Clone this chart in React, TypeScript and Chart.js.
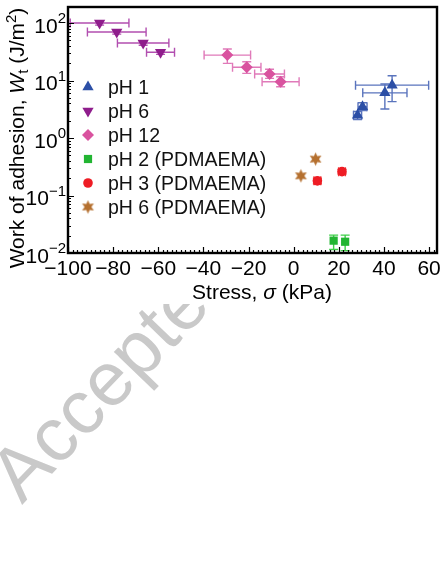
import React, { useEffect, useRef } from 'react';
import { Chart, registerables } from 'chart.js';
import { drawPoint } from 'chart.js/helpers';

Chart.register(...registerables);

// Axis ranges and tick values
const X_MIN = -100;
const X_MAX = 63.5;
const Y_MIN = 0.01;
const Y_MAX = 190;
const xTickValues = [-100, -80, -60, -40, -20, 0, 20, 40, 60];
const yTickExponents = [-2, -1, 0, 1, 2];

// pH 1
const ph1X = [43.6, 40.4, 30.5, 28.3];
const ph1Y = [8.3, 6.1, 3.5, 2.5];
const ph1XErr = [16.2, 9.8, 2.0, 1.8];
const ph1YLow = [4.3, 3.2, 3.0, 2.1];
const ph1YHigh = [12.1, 8.7, 4.1, 2.9];

// pH 6
const ph6X = [-86, -78.4, -66.7, -59];
const ph6Y = [100, 70, 45, 31];
const ph6XErr = [13, 13, 11.4, 6.2];
const ph6YLow = [92, 64, 41, 28.5];
const ph6YHigh = [108, 76, 49, 33.5];

// pH 12
const ph12X = [-29.4, -20.8, -10.7, -5.8];
const ph12Y = [27.7, 17, 13, 9.5];
const ph12XErr = [10.3, 6.3, 6.6, 8.2];
const ph12YLow = [19.9, 13.3, 10.9, 7.8];
const ph12YHigh = [35.3, 21.2, 15.7, 11.6];

// pH 2 (PDMAEMA)
const pdma2X = [17.7, 22.8];
const pdma2Y = [0.0164, 0.0157];
const pdma2XErr = [0, 0];
const pdma2YLow = [0.0115, 0.011];
const pdma2YHigh = [0.0205, 0.0205];

// pH 3 (PDMAEMA)
const pdma3X = [10.5, 21.4];
const pdma3Y = [0.18, 0.26];
const pdma3XErr = [1.5, 1.5];
const pdma3YLow = [0.16, 0.235];
const pdma3YHigh = [0.2, 0.285];

// pH 6 (PDMAEMA)
const pdma6X = [9.7, 3.2];
const pdma6Y = [0.43, 0.22];

const seriesLabels = ['pH 1', 'pH 6', 'pH 12', 'pH 2 (PDMAEMA)', 'pH 3 (PDMAEMA)', 'pH 6 (PDMAEMA)'];

const FONT = '"Liberation Sans", Arial, Helvetica, sans-serif';

type Pt = { x: number; y: number; xErr: number; yLow: number; yHigh: number };

function points(xs: number[], ys: number[], xErr?: number[], yLow?: number[], yHigh?: number[]): Pt[] {
  return xs.map((x, i) => ({
    x,
    y: ys[i],
    xErr: xErr ? xErr[i] : 0,
    yLow: yLow ? yLow[i] : ys[i],
    yHigh: yHigh ? yHigh[i] : ys[i],
  }));
}

function makeStar(color: string): HTMLCanvasElement {
  const c = document.createElement('canvas');
  c.width = 15;
  c.height = 15;
  const g = c.getContext('2d')!;
  const cx = 7.5, cy = 7.5, outer = 6.8, inner = 3.4;
  g.beginPath();
  for (let i = 0; i < 12; i++) {
    const r = i % 2 === 0 ? outer : inner;
    const a = -Math.PI / 2 + (i * Math.PI) / 6;
    const px = cx + r * Math.cos(a);
    const py = cy + r * Math.sin(a);
    if (i === 0) g.moveTo(px, py);
    else g.lineTo(px, py);
  }
  g.closePath();
  g.fillStyle = color;
  g.fill();
  return c;
}

type Seg = { t: string; font: string; dy: number };

function drawSegs(ctx: CanvasRenderingContext2D, segs: Seg[], x: number, y: number, align: 'left' | 'center' | 'right') {
  ctx.textAlign = 'left';
  ctx.textBaseline = 'alphabetic';
  const widths = segs.map((s) => {
    ctx.font = s.font;
    return ctx.measureText(s.t).width;
  });
  const total = widths.reduce((a, b) => a + b, 0);
  let cx = align === 'center' ? x - total / 2 : align === 'right' ? x - total : x;
  segs.forEach((s, i) => {
    ctx.font = s.font;
    ctx.fillText(s.t, cx, y + s.dy);
    cx += widths[i];
  });
}

const watermarkPlugin = {
  id: 'watermark',
  beforeDraw(chart: any) {
    const ctx: CanvasRenderingContext2D = chart.ctx;
    ctx.save();
    ctx.beginPath();
    ctx.rect(0, 304, chart.width, chart.height - 304);
    ctx.clip();
    ctx.translate(22, 505);
    ctx.rotate((-46 * Math.PI) / 180);
    ctx.fillStyle = '#c9c9c9';
    ctx.font = `76px ${FONT}`;
    ctx.textAlign = 'left';
    ctx.textBaseline = 'alphabetic';
    ctx.fillText('Accepted', 0, 0);
    ctx.restore();
  },
};

const errorBarPlugin = {
  id: 'errorBars',
  beforeDatasetsDraw(chart: any) {
    const ctx: CanvasRenderingContext2D = chart.ctx;
    const xs = chart.scales.x;
    const ys = chart.scales.y;
    const area = chart.chartArea;
    const cap = 4.5;
    ctx.save();
    ctx.beginPath();
    ctx.rect(area.left, area.top, area.right - area.left, area.bottom - area.top);
    ctx.clip();
    ctx.lineWidth = 1.4;
    chart.data.datasets.forEach((ds: any, di: number) => {
      if (!chart.isDatasetVisible(di)) return;
      ctx.strokeStyle = ds.errColor || ds.backgroundColor;
      (ds.data as Pt[]).forEach((p) => {
        const px = xs.getPixelForValue(p.x);
        const py = ys.getPixelForValue(p.y);
        if (p.xErr > 0) {
          const x0 = xs.getPixelForValue(p.x - p.xErr);
          const x1 = xs.getPixelForValue(p.x + p.xErr);
          ctx.beginPath();
          ctx.moveTo(x0, py);
          ctx.lineTo(x1, py);
          ctx.moveTo(x0, py - cap);
          ctx.lineTo(x0, py + cap);
          ctx.moveTo(x1, py - cap);
          ctx.lineTo(x1, py + cap);
          ctx.stroke();
        }
        if (p.yLow < p.y || p.yHigh > p.y) {
          const y0 = ys.getPixelForValue(p.yHigh);
          const y1 = ys.getPixelForValue(p.yLow);
          ctx.beginPath();
          ctx.moveTo(px, y0);
          ctx.lineTo(px, y1);
          ctx.moveTo(px - cap, y0);
          ctx.lineTo(px + cap, y0);
          ctx.moveTo(px - cap, y1);
          ctx.lineTo(px + cap, y1);
          ctx.stroke();
        }
      });
    });
    ctx.restore();
  },
};

const framePlugin = {
  id: 'frame',
  afterDraw(chart: any) {
    const ctx: CanvasRenderingContext2D = chart.ctx;
    const xs = chart.scales.x;
    const ys = chart.scales.y;
    const a = chart.chartArea;
    ctx.save();
    ctx.strokeStyle = '#000';
    ctx.fillStyle = '#000';

    // inward ticks on the bottom axis
    ctx.lineWidth = 1.2;
    ctx.beginPath();
    for (let v = -100; v <= X_MAX; v += 2) {
      const px = Math.round(xs.getPixelForValue(v)) + 0.5;
      const len = v % 20 === 0 ? 6 : 3;
      ctx.moveTo(px, a.bottom);
      ctx.lineTo(px, a.bottom - len);
    }
    // inward ticks on the left axis
    for (let e = -2; e <= 2; e++) {
      for (let m = 1; m <= 9; m++) {
        const v = m * Math.pow(10, e);
        if (v > Y_MAX) break;
        const py = Math.round(ys.getPixelForValue(v)) + 0.5;
        const len = m === 1 ? 6 : 3;
        ctx.moveTo(a.left, py);
        ctx.lineTo(a.left + len, py);
      }
    }
    ctx.stroke();

    // box
    ctx.lineWidth = 2.4;
    ctx.strokeRect(a.left, a.top, a.right - a.left, a.bottom - a.top);

    // x tick labels
    ctx.font = `21px ${FONT}`;
    ctx.textAlign = 'center';
    ctx.textBaseline = 'alphabetic';
    xTickValues.forEach((v) => {
      const t = v < 0 ? '\u2212' + Math.abs(v) : String(v);
      ctx.fillText(t, xs.getPixelForValue(v), 275);
    });

    // y tick labels 10^n
    yTickExponents.forEach((e) => {
      const py = ys.getPixelForValue(Math.pow(10, e));
      const sup = e < 0 ? '\u2212' + Math.abs(e) : String(e);
      drawSegs(
        ctx,
        [
          { t: '10', font: `21px ${FONT}`, dy: 9.5 },
          { t: sup, font: `15px ${FONT}`, dy: 0 },
        ],
        a.left - 2,
        py,
        'right'
      );
    });

    // x title
    drawSegs(
      ctx,
      [
        { t: 'Stress, ', font: `21px ${FONT}`, dy: 0 },
        { t: '\u03c3', font: `italic 21px ${FONT}`, dy: 0 },
        { t: ' (kPa)', font: `21px ${FONT}`, dy: 0 },
      ],
      262,
      298.5,
      'center'
    );

    // y title
    ctx.save();
    ctx.translate(16, 138);
    ctx.rotate(-Math.PI / 2);
    drawSegs(
      ctx,
      [
        { t: 'Work of adhesion, ', font: `21px ${FONT}`, dy: 0 },
        { t: 'W', font: `italic 21px ${FONT}`, dy: 0 },
        { t: 't', font: `15px ${FONT}`, dy: 4 },
        { t: ' (J/m', font: `21px ${FONT}`, dy: 0 },
        { t: '2', font: `15px ${FONT}`, dy: -8 },
        { t: ')', font: `21px ${FONT}`, dy: 0 },
      ],
      0,
      7.5,
      'center'
    );
    ctx.restore();

    // legend inside the plot
    chart.data.datasets.forEach((ds: any, i: number) => {
      const cy = a.top + 80 + i * 24;
      const mx = a.left + 20;
      ctx.fillStyle = ds.backgroundColor;
      ctx.strokeStyle = ds.backgroundColor;
      drawPoint(ctx, { pointStyle: ds.pointStyle, rotation: ds.pointRotation || 0, radius: ds.pointRadius, borderWidth: 0 } as any, mx, cy);
      ctx.fillStyle = '#111';
      ctx.font = `19.5px ${FONT}`;
      ctx.textAlign = 'left';
      ctx.textBaseline = 'alphabetic';
      ctx.fillText(ds.label, a.left + 40, cy + 7);
    });
    ctx.restore();
  },
};

export default function App() {
  const ref = useRef<HTMLCanvasElement>(null);

  useEffect(() => {
    const canvas = ref.current;
    if (!canvas) return;
    const star = makeStar('#b5702f');
    const chart = new Chart(canvas, {
      type: 'scatter',
      data: {
        datasets: [
          {
            label: seriesLabels[0],
            data: points(ph1X, ph1Y, ph1XErr, ph1YLow, ph1YHigh),
            pointStyle: 'triangle',
            pointRadius: 6.5,
            pointBorderWidth: 0,
            backgroundColor: '#2c4fa6',
            borderColor: '#2c4fa6',
            errColor: '#5a74bd',
          } as any,
          {
            label: seriesLabels[1],
            data: points(ph6X, ph6Y, ph6XErr, ph6YLow, ph6YHigh),
            pointStyle: 'triangle',
            pointRotation: 180,
            pointRadius: 6.5,
            pointBorderWidth: 0,
            backgroundColor: '#8f1d8c',
            borderColor: '#8f1d8c',
            errColor: '#b24fb0',
          } as any,
          {
            label: seriesLabels[2],
            data: points(ph12X, ph12Y, ph12XErr, ph12YLow, ph12YHigh),
            pointStyle: 'rectRot',
            pointRadius: 6,
            pointBorderWidth: 0,
            backgroundColor: '#d9539f',
            borderColor: '#d9539f',
            errColor: '#e07ab9',
          } as any,
          {
            label: seriesLabels[3],
            data: points(pdma2X, pdma2Y, pdma2XErr, pdma2YLow, pdma2YHigh),
            pointStyle: 'rect',
            pointRadius: 5.8,
            pointBorderWidth: 0,
            backgroundColor: '#22b532',
            borderColor: '#22b532',
            errColor: '#3fcf4a',
          } as any,
          {
            label: seriesLabels[4],
            data: points(pdma3X, pdma3Y, pdma3XErr, pdma3YLow, pdma3YHigh),
            pointStyle: 'circle',
            pointRadius: 4.8,
            pointBorderWidth: 0,
            backgroundColor: '#ee1c24',
            borderColor: '#ee1c24',
            errColor: '#ee3a3a',
          } as any,
          {
            label: seriesLabels[5],
            data: points(pdma6X, pdma6Y),
            pointStyle: star,
            pointRadius: 7,
            pointBorderWidth: 0,
            backgroundColor: '#b5702f',
            borderColor: '#b5702f',
          } as any,
        ],
      },
      options: {
        responsive: false,
        animation: false,
        events: [],
        layout: { padding: { left: 68, right: 4, top: 7, bottom: 329 } },
        plugins: {
          legend: { display: false },
          tooltip: { enabled: false },
        },
        scales: {
          x: { type: 'linear', min: X_MIN, max: X_MAX, display: false },
          y: { type: 'logarithmic', min: Y_MIN, max: Y_MAX, display: false },
        },
      },
      plugins: [watermarkPlugin, errorBarPlugin, framePlugin],
    });
    return () => chart.destroy();
  }, []);

  return (
    <div style={{ position: 'fixed', left: 0, top: 0, width: 444, height: 582, background: '#fff' }}>
      <canvas ref={ref} width={444} height={582} style={{ display: 'block', width: 444, height: 582 }} />
    </div>
  );
}
